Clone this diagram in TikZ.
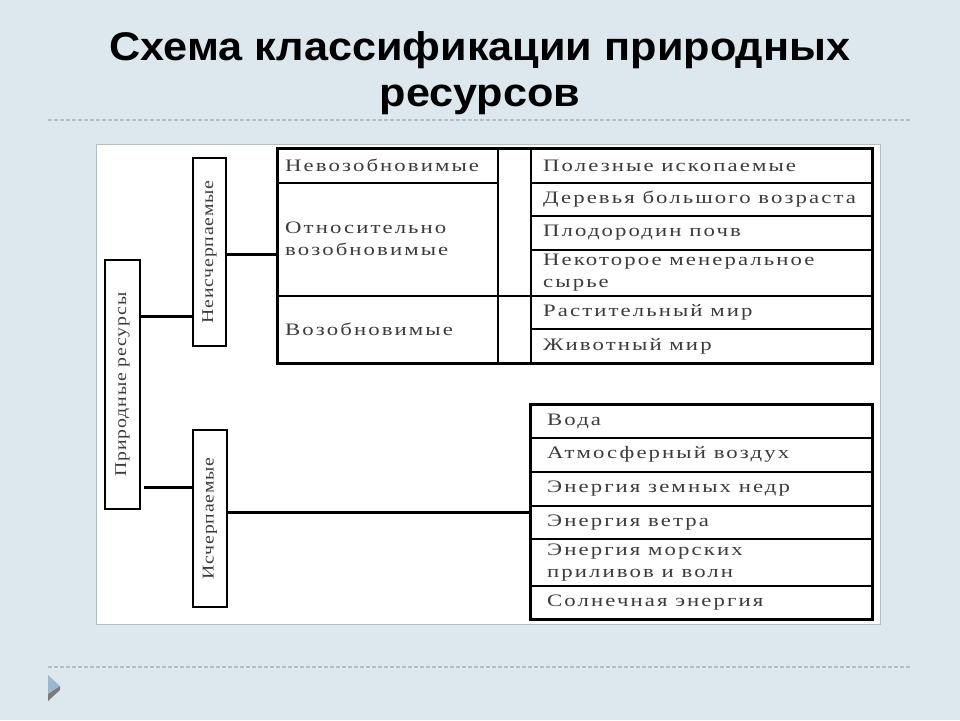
\documentclass[tikz,border=0pt]{standalone}
\usepackage{fontspec}
\setmainfont{Liberation Serif}
\newfontfamily\titlefont[FakeStretch=1.08]{Liberation Sans}
\newfontfamily\cellfont[LetterSpace=12,FakeStretch=1.3]{Liberation Serif}
\newfontfamily\sidefont[LetterSpace=5,FakeStretch=1.2]{Liberation Serif}
\usetikzlibrary{positioning}

\definecolor{slideBg}{HTML}{DDE7EE}
\definecolor{panelEdge}{HTML}{B4BEC6}
\definecolor{dashGray}{HTML}{B3BEC7}
\definecolor{cellText}{HTML}{3C3C3C}
\definecolor{arrowBlue}{HTML}{9DB7CF}
\definecolor{arrowGray}{HTML}{7A7A7A}

\begin{document}
\begin{tikzpicture}[x=1pt, y=-1pt]
  \tikzstyle{cell} = [draw, line width=1.8pt, inner sep=0pt, anchor=north west]
  \tikzstyle{cellText} = [inner sep=0pt, align=left, text=cellText, font=\cellfont\fontsize{17.5}{22}\selectfont]
  \tikzstyle{sideBox} = [draw, line width=1.8pt, rotate=90, inner sep=0pt, text=cellText, font=\sidefont\fontsize{16.5}{18}\selectfont]
  \tikzstyle{frame} = [line width=2.6pt]
  \tikzstyle{link} = [line width=3pt]
  \tikzstyle{dashLine} = [dashGray, line width=1.5pt, dash pattern=on 4pt off 2pt]

  % Slide background
  \useasboundingbox (0,0) rectangle (960,720);
  \fill[slideBg] (0,0) rectangle (960,720);
  \draw[panelEdge, fill=white, line width=1pt] (96,144) rectangle (880,624);

  % Title
  \node[font=\titlefont\bfseries\fontsize{40}{46}\selectfont, align=center] (title) at (480,73) {Схема классификации природных\\ресурсов};
  \draw[dashLine] (48,120) -- (912,120);
  \draw[dashLine] (48,667) -- (912,667);

  % Bottom marker
  \fill[arrowGray] (48,692) -- (60,686) -- (60,690) -- (48,701) -- cycle;
  \fill[arrowBlue] (48,675) -- (60,686) -- (48,694) -- cycle;

  % Draw left column of the upper table
  \foreach \name/\top/\bot/\txt in {nvz/148/181.7/{Невозобновимые}, otn/181.7/295/{Относительно\\возобновимые}, vzb/295/362/{Возобновимые}}
  {
    \pgfmathsetmacro{\h}{\bot-\top}
    \node[cell, minimum width=220pt, minimum height=\h pt] (\name) at (277,\top) {};
    \node[cellText, right=8pt of \name.west] (\name-t) {\txt};
  }

  % Draw narrow column
  \node[cell, minimum width=33pt, minimum height=147pt] (gapA) at (497,148) {};
  \node[cell, minimum width=33pt, minimum height=67pt] (gapB) at (497,295) {};

  % Draw right column of the upper table
  \foreach \name/\top/\bot/\txt in {pol/148/181.7/{Полезные ископаемые}, der/181.7/215/{Деревья большого возраста}, pld/215/249/{Плодородин почв}, nek/249/295/{Некоторое менеральное\\сырье}, rast/295/328/{Растительный мир}, ziv/328/362/{Животный мир}}
  {
    \pgfmathsetmacro{\h}{\bot-\top}
    \node[cell, minimum width=341pt, minimum height=\h pt] (\name) at (530,\top) {};
    \node[cellText, right=13pt of \name.west] (\name-t) {\txt};
  }

  % Draw lower table
  \foreach \name/\top/\bot/\txt in {voda/404/437/{Вода}, vozd/437/470.7/{Атмосферный воздух}, nedr/470.7/505/{Энергия земных недр}, veter/505/538/{Энергия ветра}, more/538/585/{Энергия морских\\приливов и волн}, solnce/585/618/{Солнечная энергия}}
  {
    \pgfmathsetmacro{\h}{\bot-\top}
    \node[cell, minimum width=341pt, minimum height=\h pt] (\name) at (530,\top) {};
    \node[cellText, right=17pt of \name.west] (\name-t) {\txt};
  }

  % Outer frames
  \draw[frame] (nvz.north west) rectangle (ziv.south east);
  \draw[frame] (voda.north west) rectangle (solnce.south east);

  % Draw side boxes
  \node[sideBox, minimum width=249pt, minimum height=35pt] (pr) at (122.5,384.5) {Природные ресурсы};
  \node[sideBox, minimum width=188pt, minimum height=33pt] (neisch) at (209.5,252) {Неисчерпаемые};
  \node[sideBox, minimum width=177pt, minimum height=34pt] (isch) at (210,518.5) {Исчерпаемые};

  % Connections
  \coordinate (upJoin) at (0,316);
  \coordinate (lowJoin) at (0,487);
  \coordinate (tabJoin) at (0,254);
  \coordinate (natJoin) at (0,512);
  \draw[link] (pr.south |- upJoin) -- (neisch.north |- upJoin);
  \draw[link] ([xshift=3pt]pr.south |- lowJoin) -- (isch.north |- lowJoin);
  \draw[link] (neisch.south |- tabJoin) -- (otn.west |- tabJoin);
  \draw[link] (isch.south |- natJoin) -- (voda.west |- natJoin);

\end{tikzpicture}
\end{document}
